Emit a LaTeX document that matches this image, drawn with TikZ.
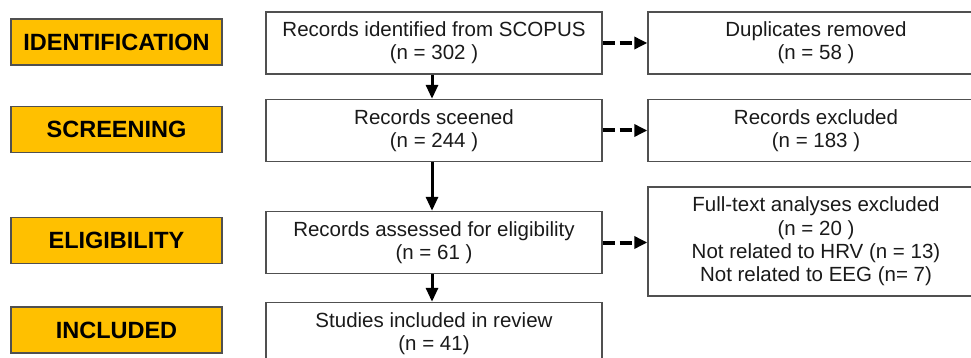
\documentclass[tikz,border=0pt]{standalone}
\usepackage{fontspec}
\setmainfont{Liberation Sans}
\usetikzlibrary{arrows.meta}
\definecolor{gold}{HTML}{FFC000}
\definecolor{edge}{HTML}{505050}
\definecolor{ink}{HTML}{1A1A1A}
\tikzset{
  stage/.style={draw=edge, line width=1.4pt, fill=gold, minimum width=211pt, minimum height=46pt, inner sep=0pt,
    font=\fontsize{23.5}{28}\selectfont\bfseries, text=black},
  recbox/.style={draw=edge, line width=1.4pt, fill=white, minimum width=336pt, minimum height=62pt, inner sep=0pt,
    align=center, font=\fontsize{20.5}{23.3}\selectfont, text=ink},
  flow/.style={line width=3pt, -{Triangle[width=12pt,length=14pt]}},
  side/.style={line width=4pt, dash pattern=on 12pt off 5pt, -{Triangle[width=12pt,length=13pt]}}
}
\begin{document}
\begin{tikzpicture}[x=1pt,y=-1pt]
\useasboundingbox (0,0) rectangle (971,358);
\clip (0,0) rectangle (971,358);
\fill[white] (0,0) rectangle (971,358);
% stage labels
\node[stage] (lid) at (116.5,42) {IDENTIFICATION};
\node[stage] (lsc) at (116.5,129.5) {SCREENING};
\node[stage] (lel) at (116.5,240.5) {ELIGIBILITY};
\node[stage] (lin) at (116.5,330) {INCLUDED};
% main column
\node[recbox] (id) at (434,43) {Records identified from SCOPUS\\(n = 302 )};
\node[recbox] (sc) at (434,130.5) {Records sceened\\(n = 244 )};
\node[recbox] (el) at (434,242.5) {Records assessed for eligibility\\(n = 61 )};
\node[recbox] (inc) at (434,333.5) {Studies included in review\\(n = 41)};
% side column
\node[recbox] (dup) at (816,43) {Duplicates removed\\(n = 58 )};
\node[recbox] (exc) at (816,130.5) {Records excluded\\(n = 183 )};
\node[recbox, minimum height=109pt] (ft) at (816,241.5) {Full-text analyses excluded\\(n = 20 )\\Not related to HRV (n = 13)\\Not related to EEG (n= 7)};
% connectors
\draw[flow] (id.south -| 432,0) -- (sc.north -| 432,0);
\draw[flow] (sc.south -| 432,0) -- (el.north -| 432,0);
\draw[flow] (el.south -| 432,0) -- (inc.north -| 432,0);
\draw[side] (id.east) -- (dup.west);
\draw[side] (sc.east) -- (exc.west);
\draw[side] (el.east) -- (el.east -| ft.west);
\end{tikzpicture}
\end{document}
